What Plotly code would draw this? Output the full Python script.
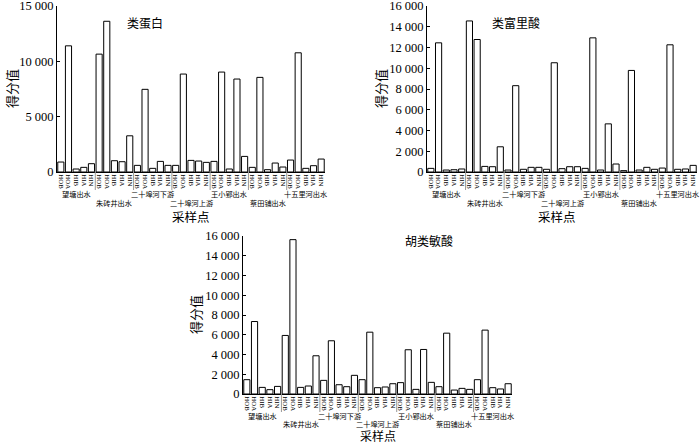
import plotly.graph_objects as go

sites = ["望塘出水", "朱砖井出水", "二十埠河下游", "二十埠河上游", "王小郢出水", "蔡田铺出水", "十五里河出水"]
fractions = ["HOB", "HOA", "HIB", "HIA", "HIN"]

protein_like = [900, 11400, 270, 420, 750,
                10650, 13620, 1020, 930, 3270,
                600, 7470, 330, 960, 600,
                600, 8850, 1050, 990, 870,
                960, 9030, 270, 8400, 1410,
                420, 8550, 210, 810, 450,
                1080, 10770, 330, 570, 1170]
fulvic_like = [350, 12450, 190, 220, 290,
               14560, 12770, 540, 510, 2430,
               190, 8320, 260, 450, 450,
               260, 10530, 320, 510, 510,
               350, 12930, 190, 4640, 770,
               130, 9790, 190, 450, 260,
               380, 12260, 260, 290, 640]
humic_like = [1450, 7340, 670, 440, 770,
              5930, 15630, 670, 810, 3870,
              1380, 5390, 940, 740, 1890,
              1450, 6260, 640, 710, 1040,
              1150, 4480, 470, 4510, 1180,
              740, 6160, 400, 570, 470,
              1450, 6470, 640, 510, 1040]

titles = ["类蛋白", "类富里酸", "胡类敏酸"]
y_ticks = [[0, 5000, 10000, 15000],
           [0, 2000, 4000, 6000, 8000, 10000, 12000, 14000, 16000],
           [0, 2000, 4000, 6000, 8000, 10000, 12000, 14000, 16000]]
y_max = [15000, 16000, 16000]

xlabels = [f for s in sites for f in fractions]
xs = list(range(len(xlabels)))

SERIF = "Liberation Serif"
CJK = "Noto Sans CJK SC"

def fmt(v):
    return f"{v:,}".replace(",", " ")

W, H = 700, 444
# panel pixel geometry: (x_left, x_right, y_top, y_bottom)
panels = [(57, 325, 6, 172), (427, 697, 6, 172), (243, 512, 236, 394)]
ytitle_x = [12, 381, 195]
xtitle_x = [191, 557, 378]
xtitle_dy = [44, 44, 41.5]
xtitle_size = [12.5, 12.5, 12]
row2_dy = [31, 31, 29.5]

fig = go.Figure()
series = [protein_like, fulvic_like, humic_like]
layout = {}
annotations = []
shapes = []

def ann(text, x, y, size, xref="paper", angle=0):
    return dict(text=text, xref=xref, yref="paper", x=x, y=y, showarrow=False,
                xanchor="center", yanchor="middle", textangle=angle,
                font=dict(family=CJK, size=size, color="black"))

for i, (vals, (xl, xr, yt, yb)) in enumerate(zip(series, panels)):
    n = "" if i == 0 else str(i + 1)
    fig.add_trace(go.Bar(x=xs, y=vals, xaxis="x" + n, yaxis="y" + n,
                         marker=dict(color="white", line=dict(color="black", width=1)),
                         showlegend=False, hoverinfo="skip"))
    layout["xaxis" + n] = dict(domain=[xl / W, xr / W], range=[-0.5, len(xs) - 0.5],
                               anchor="y" + n, tickmode="array", tickvals=xs, ticktext=xlabels,
                               tickangle=90, tickfont=dict(family=SERIF, size=6.8, color="black"),
                               showline=True, linecolor="black", linewidth=1, automargin=False,
                               ticklabeloverflow="allow",
                               ticks="", showgrid=False, zeroline=False, fixedrange=True)
    layout["yaxis" + n] = dict(domain=[(H - yb) / H, (H - yt) / H], range=[0, y_max[i]],
                               anchor="x" + n, tickmode="array", tickvals=y_ticks[i],
                               ticktext=[fmt(v) for v in y_ticks[i]],
                               tickfont=dict(family=SERIF, size=12.5, color="black"),
                               showline=True, linecolor="black", linewidth=1, automargin=False,
                               ticklabeloverflow="allow",
                               ticks="inside", ticklen=3, tickcolor="black",
                               showgrid=False, zeroline=False, fixedrange=True)
    xref = "x" + n
    # separators between sites
    for g in range(1, len(sites)):
        shapes.append(dict(type="line", xref=xref, yref="paper",
                           x0=g * 5 - 0.5, x1=g * 5 - 0.5,
                           y0=(H - yb + 1) / H, y1=(H - yb - 18) / H,
                           line=dict(color="#999999", width=1)))
    # site labels (staggered)
    for g, s in enumerate(sites):
        row_y = yb + 22 if g % 2 == 0 else yb + row2_dy[i]
        annotations.append(ann(s, g * 5 + 2, (H - row_y) / H, 7.2, xref=xref))
    # axis titles
    annotations.append(ann("采样点", xtitle_x[i] / W, (H - (yb + xtitle_dy[i])) / H, xtitle_size[i]))
    annotations.append(ann("得分值", ytitle_x[i] / W, (H - (yt + yb) / 2) / H, 13, angle=-90))

# panel titles
title_pos = [(145, 22), (516, 22), (429, 240)]
for t, (tx, ty) in zip(titles, title_pos):
    annotations.append(ann(t, tx / W, (H - ty) / H, 12))

fig.update_layout(width=W, height=H, margin=dict(l=0, r=0, t=0, b=0),
                  paper_bgcolor="white", plot_bgcolor="white", bargap=0.2,
                  annotations=annotations, shapes=shapes, **layout)
fig.write_html("out.html", config={"displayModeBar": False},
               post_script="document.body.style.margin='0';document.body.style.overflow='hidden';")
